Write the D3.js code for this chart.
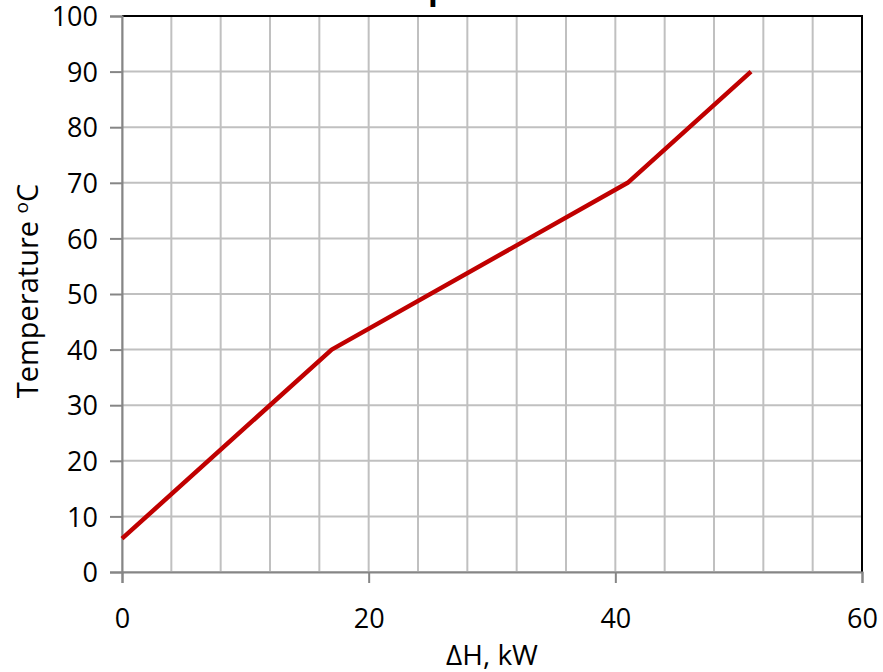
<!DOCTYPE html>
<html>
<head>
<meta charset="utf-8">
<script src="https://cdn.jsdelivr.net/npm/d3@7"></script>
<style>
  body { margin: 0; background: #fff; }
  svg { display: block; font-family: "Open Sans", sans-serif; }
</style>
</head>
<body>
<div id="chart"></div>
<script>
// curve points
const heatLoad = [0, 17, 41, 51];
const temperature = [6, 40, 70, 90];
const xTickLabels = [0, 20, 40, 60];
const yTickLabels = [0, 10, 20, 30, 40, 50, 60, 70, 80, 90, 100];
const xGridValues = d3.range(0, 61, 4);

const width = 883, height = 672;
const margin = { top: 16, right: 21, bottom: 100, left: 122 };

const svg = d3.select('#chart').append('svg')
    .attr('width', width)
    .attr('height', height);

const x = d3.scaleLinear().domain([0, 60]).range([margin.left, width - margin.right]);
const y = d3.scaleLinear().domain([0, 100]).range([height - margin.bottom, margin.top]);

// gridlines
svg.append('g')
    .selectAll('line')
    .data(xGridValues)
    .join('line')
    .attr('x1', d => x(d)).attr('x2', d => x(d))
    .attr('y1', y(0)).attr('y2', y(100))
    .attr('stroke', '#c0c0c0')
    .attr('stroke-width', 2);

svg.append('g')
    .selectAll('line')
    .data(yTickLabels)
    .join('line')
    .attr('x1', x(0)).attr('x2', x(60))
    .attr('y1', d => y(d)).attr('y2', d => y(d))
    .attr('stroke', '#c0c0c0')
    .attr('stroke-width', 2);

// top and right border
svg.append('path')
    .attr('d', `M${x(0)},${y(100)}H${x(60)}V${y(0)}`)
    .attr('fill', 'none')
    .attr('stroke', '#000')
    .attr('stroke-width', 2);

// axes
const xAxis = svg.append('g')
    .attr('transform', `translate(0,${y(0)})`)
    .call(d3.axisBottom(x).tickValues(xTickLabels).tickSize(11).tickPadding(26));
const yAxis = svg.append('g')
    .attr('transform', `translate(${x(0)},0)`)
    .call(d3.axisLeft(y).tickValues(yTickLabels).tickSize(12).tickPadding(12));

[xAxis, yAxis].forEach(g => {
    g.select('.domain').attr('stroke', '#868686').attr('stroke-width', 2);
    g.selectAll('.tick line').attr('stroke', '#868686').attr('stroke-width', 2);
    g.selectAll('.tick text')
        .attr('fill', '#000')
        .style('font-size', '27px')
        .style('font-family', '"Open Sans", sans-serif');
});
yAxis.selectAll('.tick text').attr('dy', '0.36em');

// the curve
const line = d3.line()
    .x(d => x(d[0]))
    .y(d => y(d[1]));

svg.append('path')
    .datum(d3.zip(heatLoad, temperature))
    .attr('d', line)
    .attr('fill', 'none')
    .attr('stroke', '#c00000')
    .attr('stroke-width', 4.5)
    .attr('stroke-linejoin', 'round');

// axis titles
svg.append('text')
    .attr('x', (x(0) + x(60)) / 2)
    .attr('y', 665)
    .attr('text-anchor', 'middle')
    .style('font-size', '28px')
    .text('ΔH, kW');

const yTitle = svg.append('text')
    .attr('transform', `translate(38,${(y(0) + y(100)) / 2 - 3}) rotate(-90)`)
    .attr('text-anchor', 'middle')
    .style('font-size', '29px');
yTitle.append('tspan').text('Temperature ');
yTitle.append('tspan').attr('dy', -10).style('font-size', '19px').text('o');
yTitle.append('tspan').attr('dy', 10).text('C');

// chart title, sits above the visible area; only the descender shows
const title = svg.append('text')
    .attr('x', 0)
    .attr('y', -1)
    .style('font-size', '32px')
    .style('font-weight', 'bold')
    .text('Composite Curve');
const pOffset = title.node().getSubStringLength(0, 3);
title.attr('x', 428 - pOffset);
</script>
</body>
</html>
